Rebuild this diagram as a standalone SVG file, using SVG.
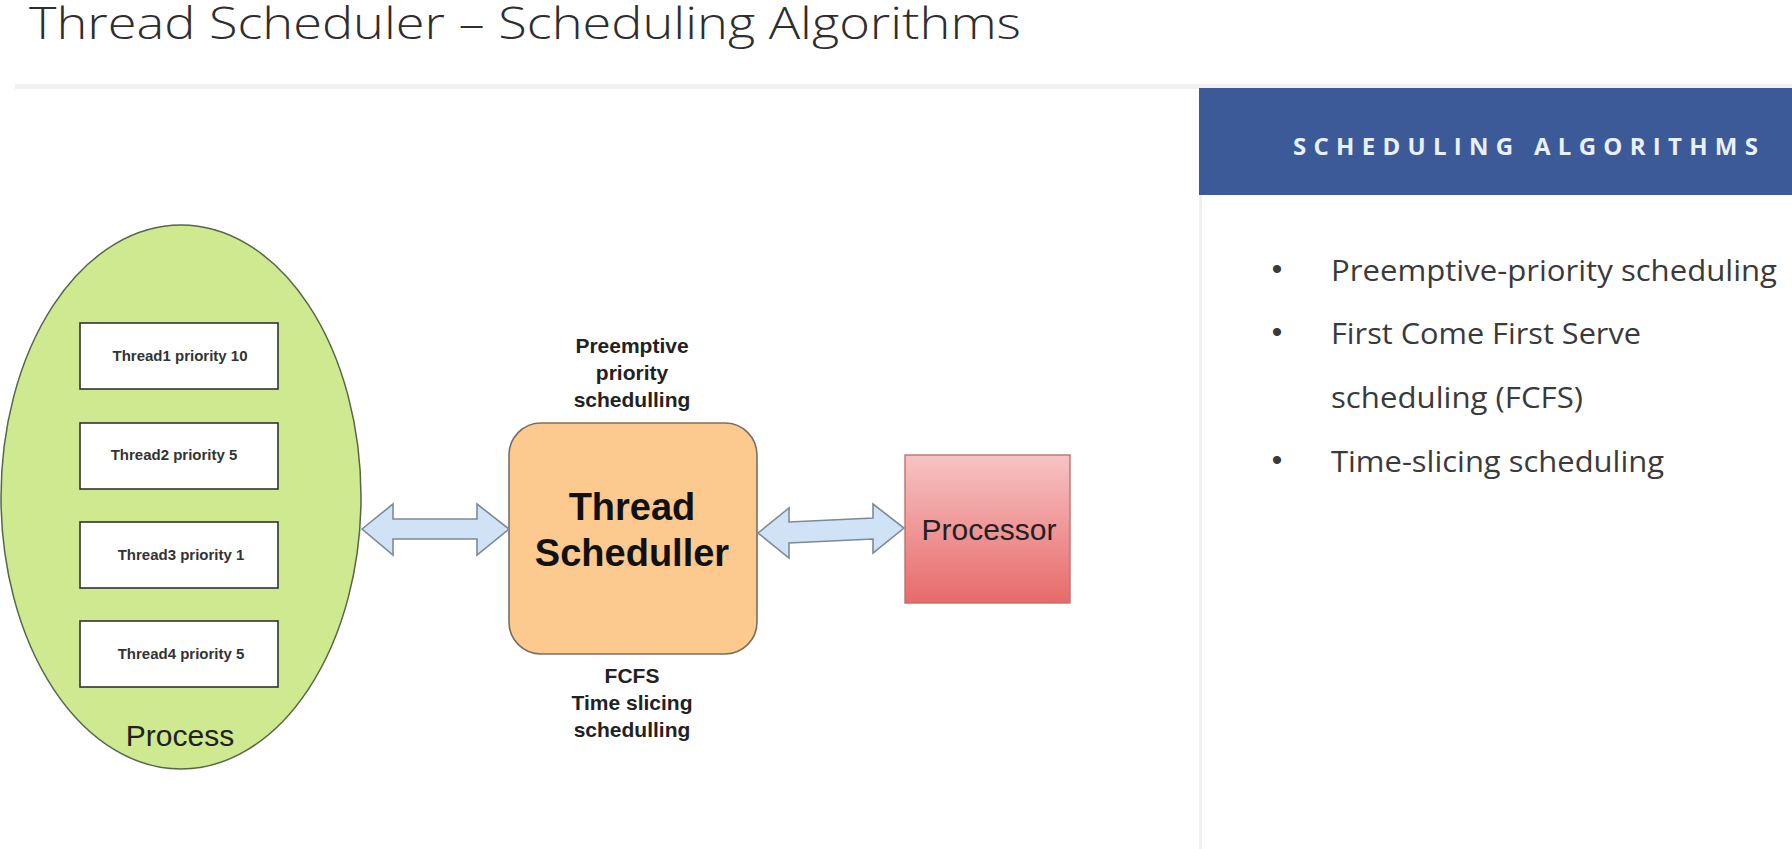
<svg xmlns="http://www.w3.org/2000/svg" width="1792" height="849" viewBox="0 0 1792 849">
  <style>
    .title { font-family: "Open Sans", "Liberation Sans", sans-serif; font-weight: 300; font-size: 44px; fill: #2e2e2e; }
    .thread-box { fill: #ffffff; stroke: #333333; stroke-width: 1.6; }
    .thread-label { font-family: "Liberation Sans", Arial, sans-serif; font-weight: bold; font-size: 15px; fill: #333333; text-anchor: middle; }
    .note { font-family: "Liberation Sans", Arial, sans-serif; font-weight: bold; font-size: 21px; fill: #222222; text-anchor: middle; }
    .big { font-family: "Liberation Sans", Arial, sans-serif; font-weight: bold; font-size: 38px; fill: #111111; text-anchor: middle; }
    .plain { font-family: "Liberation Sans", Arial, sans-serif; font-size: 30px; fill: #222222; text-anchor: middle; }
    .arrow { fill: #cfe2f6; stroke: #7d8a96; stroke-width: 1.6; stroke-linejoin: miter; }
    .panel-head { font-family: "Open Sans", "Liberation Sans", sans-serif; font-weight: bold; font-size: 24px; fill: #e8f0fb; }
    .bullet-text { font-family: "Open Sans", "Liberation Sans", sans-serif; font-size: 29px; fill: #3a3a3a; }
    .bullet { font-family: "Liberation Sans", Arial, sans-serif; font-size: 30px; fill: #3a3a3a; text-anchor: middle; }
  </style>
  <defs>
    <linearGradient id="cpuFill" x1="0" y1="0" x2="0" y2="1">
      <stop offset="0" stop-color="#f7c3c3"/>
      <stop offset="1" stop-color="#e86a6a"/>
    </linearGradient>
  </defs>

  <rect x="0" y="0" width="1792" height="849" fill="#ffffff"/>

  <!-- page heading -->
  <text class="title" x="29" y="39" textLength="992" lengthAdjust="spacingAndGlyphs">Thread Scheduler – Scheduling Algorithms</text>
  <rect x="15" y="84" width="1777" height="5" fill="#f0f0f0"/>

  <!-- right side panel -->
  <g id="algorithms-panel">
    <rect x="1199" y="195" width="3" height="654" fill="#f0f0f0"/>
    <rect x="1199" y="88" width="593" height="107" fill="#3c5a97"/>
    <text class="panel-head" x="1293" y="155" textLength="465" lengthAdjust="spacing">SCHEDULING ALGORITHMS</text>
    <text class="bullet" x="1277" y="279">•</text>
    <text class="bullet-text" x="1331" y="281" textLength="446" lengthAdjust="spacingAndGlyphs">Preemptive-priority scheduling</text>
    <text class="bullet" x="1277" y="342">•</text>
    <text class="bullet-text" x="1331" y="344" textLength="310" lengthAdjust="spacingAndGlyphs">First Come First Serve</text>
    <text class="bullet-text" x="1331" y="408" textLength="252" lengthAdjust="spacingAndGlyphs">scheduling (FCFS)</text>
    <text class="bullet" x="1277" y="470">•</text>
    <text class="bullet-text" x="1331" y="472" textLength="333" lengthAdjust="spacingAndGlyphs">Time-slicing scheduling</text>
  </g>

  <!-- process containing its threads -->
  <g id="process">
    <ellipse cx="181" cy="497" rx="180" ry="272" fill="#cee98f" stroke="#56664a" stroke-width="1.5"/>
    <text class="plain" x="180" y="746" fill="#1d2a10">Process</text>
  </g>
  <g id="thread1">
    <rect class="thread-box" x="80" y="323" width="198" height="66"/>
    <text class="thread-label" x="180" y="361">Thread1 priority 10</text>
  </g>
  <g id="thread2">
    <rect class="thread-box" x="80" y="423" width="198" height="66"/>
    <text class="thread-label" x="174" y="460">Thread2 priority 5</text>
  </g>
  <g id="thread3">
    <rect class="thread-box" x="80" y="522" width="198" height="66"/>
    <text class="thread-label" x="181" y="560">Thread3 priority 1</text>
  </g>
  <g id="thread4">
    <rect class="thread-box" x="80" y="621" width="198" height="66"/>
    <text class="thread-label" x="181" y="659">Thread4 priority 5</text>
  </g>

  <!-- scheduler -->
  <g id="scheduler">
    <text class="note" x="632" y="353">Preemptive</text>
    <text class="note" x="632" y="380">priority</text>
    <text class="note" x="632" y="407">schedulling</text>
    <rect x="509" y="423" width="248" height="231" rx="32" ry="32" fill="#fcc98f" stroke="#7a6e62" stroke-width="1.6"/>
    <text class="big" x="632" y="520">Thread</text>
    <text class="big" x="632" y="566">Scheduller</text>
    <text class="note" x="632" y="683">FCFS</text>
    <text class="note" x="632" y="710">Time slicing</text>
    <text class="note" x="632" y="737">schedulling</text>
  </g>

  <!-- processor -->
  <g id="processor">
    <rect x="905" y="455" width="165" height="148" fill="url(#cpuFill)" stroke="#c07070" stroke-width="1.4"/>
    <text class="plain" x="989" y="540">Processor</text>
  </g>

  <!-- two-way connectors -->
  <g id="connectors">
    <polygon class="arrow" points="362,529 393,504 393,519 477,519 477,504 509,529 477,555 477,539 393,539 393,555"/>
    <polygon class="arrow" points="758,533 789,508 789,522 873,518 873,504 904,528 873,553 873,539 789,543 789,558"/>
  </g>
</svg>
